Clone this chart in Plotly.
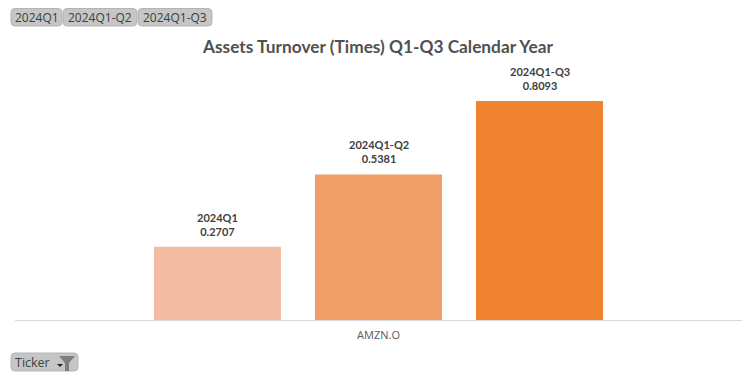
import plotly.graph_objects as go

ticker = ["AMZN.O"]
periods = ["2024Q1", "2024Q1-Q2", "2024Q1-Q3"]
values = [0.2707, 0.5381, 0.8093]
colors = ["#F4BCA2", "#F09E66", "#EF832F"]
title = "Assets Turnover (Times) Q1-Q3 Calendar Year"

W, H = 756, 378
PAGE = 8  # default page margin around the figure
L, R, T, B = 15, 742, 40, 320
STEP = 161  # distance between neighbouring bars, px
PX = lambda x: (x - L) / (R - L)
PY = lambda y: (B - y) / (B - T)

fig = go.Figure()
for p, v, c in zip(periods, values, colors):
    fig.add_bar(x=ticker, y=[v], name=p, marker=dict(color=c, line_width=0),
                cliponaxis=False, hoverinfo="x+y+name")


def rrect(x0, y0, x1, y1, r=4):
    a, b, c, d = PX(x0), PY(y0), PX(x1), PY(y1)
    rx, ry = r / (R - L), r / (B - T)
    return (f"M{a+rx},{b} L{c-rx},{b} Q{c},{b} {c},{b-ry} L{c},{d+ry} Q{c},{d} {c-rx},{d} "
            f"L{a+rx},{d} Q{a},{d} {a},{d+ry} L{a},{b-ry} Q{a},{b} {a+rx},{b} Z")


def poly(pts, fill):
    path = "M" + " L".join(f"{PX(x)},{PY(y)}" for x, y in pts) + " Z"
    return dict(type="path", xref="paper", yref="paper", path=path,
                fillcolor=fill, line_width=0)


def label(text, x, y, size, color, family="Open Sans", xanchor="center"):
    return dict(text=text, xref="paper", yref="paper", x=PX(x), y=PY(y), xanchor=xanchor,
                yanchor="middle", showarrow=False,
                font=dict(family=family, size=size, color=color))


shapes, annotations = [], []
buttons = [(periods[0], 11, 62), (periods[1], 63, 137), (periods[2], 138, 212)]
for text, x0, x1 in buttons:
    shapes.append(dict(type="path", xref="paper", yref="paper", path=rrect(x0, 8.5, x1, 26),
                       fillcolor="#C6C6C6", line=dict(color="#B4B4B4", width=1)))
    annotations.append(label(text, (x0 + x1) / 2, 17, 12, "#404040"))

shapes.append(dict(type="path", xref="paper", yref="paper", path=rrect(11, 353, 78, 371),
                   fillcolor="#C6C6C6", line=dict(color="#B4B4B4", width=1)))
annotations.append(label("Ticker", 13, 362, 12.5, "#404040", xanchor="left"))
shapes.append(poly([(59, 356), (75, 356), (69, 363), (69, 371), (65, 371), (65, 363)], "#7E7E7E"))
shapes.append(poly([(57, 364), (63, 364), (60, 367)], "#222222"))

annotations.append(label(f"<b>{title}</b>", 378, 46, 17.3, "#505050", family="Lato"))

for i, (p, v) in enumerate(zip(periods, values)):
    annotations.append(dict(text=f"<b>{p}<br>{v:.4f}</b>", xref="x", yref="y", x=ticker[0], y=v,
                            xshift=(i - 1) * STEP, yshift=7, xanchor="center", yanchor="bottom",
                            showarrow=False, font=dict(family="Lato", size=11, color="#404040")))

fig.update_layout(
    width=W - PAGE, height=H - PAGE, barmode="group", bargap=0.3356, bargroupgap=0.211,
    margin=dict(l=L - PAGE, r=W - R, t=T - PAGE, b=H - B, pad=0),
    paper_bgcolor="white", plot_bgcolor="white", showlegend=False,
    shapes=shapes, annotations=annotations,
    xaxis=dict(type="category", showline=True, linecolor="#D9D9D9", linewidth=1, ticks="",
               ticklabelstandoff=5,
               tickfont=dict(family="Open Sans", size=11, color="#595959"), showgrid=False),
    yaxis=dict(range=[0, 1.0347], visible=False, showgrid=False, zeroline=False),
)
fig.write_html("out.html", config=dict(displayModeBar=False))
